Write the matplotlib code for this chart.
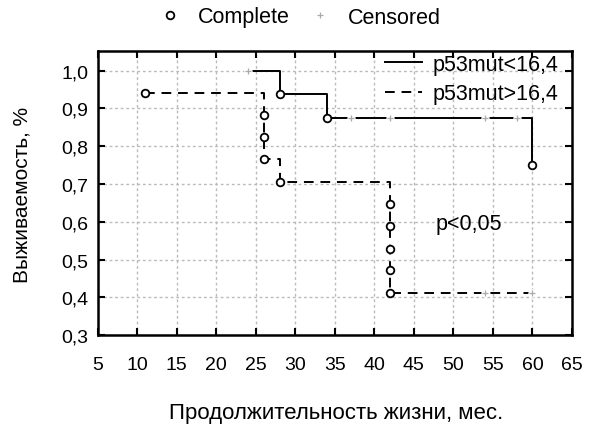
import matplotlib.pyplot as plt
from matplotlib.lines import Line2D

plt.rcParams['font.family'] = ['Liberation Sans', 'DejaVu Sans']

# group 1: p53mut<16,4 (solid)
t1 = [24, 28, 34, 37, 42, 54, 58, 60]
s1 = [1.0, 0.9375, 0.875, 0.875, 0.875, 0.875, 0.875, 0.75]
e1 = [0, 1, 1, 0, 0, 0, 0, 1]  # 1 = complete, 0 = censored

# group 2: p53mut>16,4 (dashed)
t2 = [11, 26, 26, 26, 28, 42, 42, 42, 42, 42, 54, 60]
s2 = [0.941, 0.882, 0.824, 0.765, 0.706, 0.647, 0.588, 0.529, 0.471, 0.412, 0.412, 0.412]
e2 = [1, 1, 1, 1, 1, 1, 1, 1, 1, 1, 0, 0]

xticks = [5, 10, 15, 20, 25, 30, 35, 40, 45, 50, 55, 60, 65]
yticks = [0.3, 0.4, 0.5, 0.6, 0.7, 0.8, 0.9, 1.0]
ylabels = ['0,3', '0,4', '0,5', '0,6', '0,7', '0,8', '0,9', '1,0']

fig = plt.figure(figsize=(5.89, 4.27), dpi=100)
ax = fig.add_axes([0.166, 0.213, 0.805, 0.666])

dash = (0, (5, 3.5))
ax.step(t1, s1, where='post', color='black', lw=1.4, label='p53mut<16,4')
ax.step(t2, s2, where='post', color='black', lw=1.4, linestyle=dash, label='p53mut>16,4')


def marks(t, s, e):
    tc = [a for a, f in zip(t, e) if f]
    sc = [b for b, f in zip(s, e) if f]
    tx = [a for a, f in zip(t, e) if not f]
    sx = [b for b, f in zip(s, e) if not f]
    ax.plot(tc, sc, 'o', ms=5.5, mfc='white', mec='black', mew=1.3, zorder=5)
    ax.plot(tx, sx, 'o', ms=5, mfc='white', mec='white', zorder=5)
    ax.plot(tx, sx, '+', ms=5, mew=0.9, color='#aaaaaa', zorder=6)


marks(t1, s1, e1)
marks(t2, s2, e2)

ax.set_xlim(5, 65)
ax.set_ylim(0.3, 1.053)
ax.set_xticks(xticks)
ax.set_yticks(yticks)
ax.set_yticklabels(ylabels)
ax.tick_params(direction='in', top=True, right=True, length=5, width=1.5,
               labelsize=14)
ax.tick_params(axis='x', pad=15)
ax.tick_params(axis='y', pad=7)
for sp in ax.spines.values():
    sp.set_linewidth(1.8)
ax.grid(True, color='#bbbbbb', linestyle=(0, (2, 2)), lw=1)
ax.set_axisbelow(True)

ax.set_ylabel('Выживаемость, %', fontsize=15)
ax.yaxis.set_label_coords(-0.14, 0.496)
ax.set_xlabel('Продолжительность жизни, мес.', fontsize=16)
ax.xaxis.set_label_coords(0.503, -0.235)

ax.text(47.8, 0.595, 'p<0,05', fontsize=15.5, va='center', ha='left')

ax.legend(loc='upper right', bbox_to_anchor=(0.972, 0.99), frameon=False,
          fontsize=15.5, handlelength=1.7, handletextpad=0.5, labelspacing=0.4,
          borderpad=0, borderaxespad=0)

h = [Line2D([], [], marker='o', ls='none', ms=5.5, mfc='white', mec='black', mew=1.3),
     Line2D([], [], marker='+', ls='none', ms=5, mew=0.9, color='#aaaaaa')]
fig.legend(h, ['Complete', 'Censored'], loc='center', ncol=2,
           bbox_to_anchor=(295 / 589, 1 - 18 / 427), frameon=False,
           fontsize=15.5, handletextpad=0.3, columnspacing=0.4)

fig.savefig('out.png', dpi=100)
